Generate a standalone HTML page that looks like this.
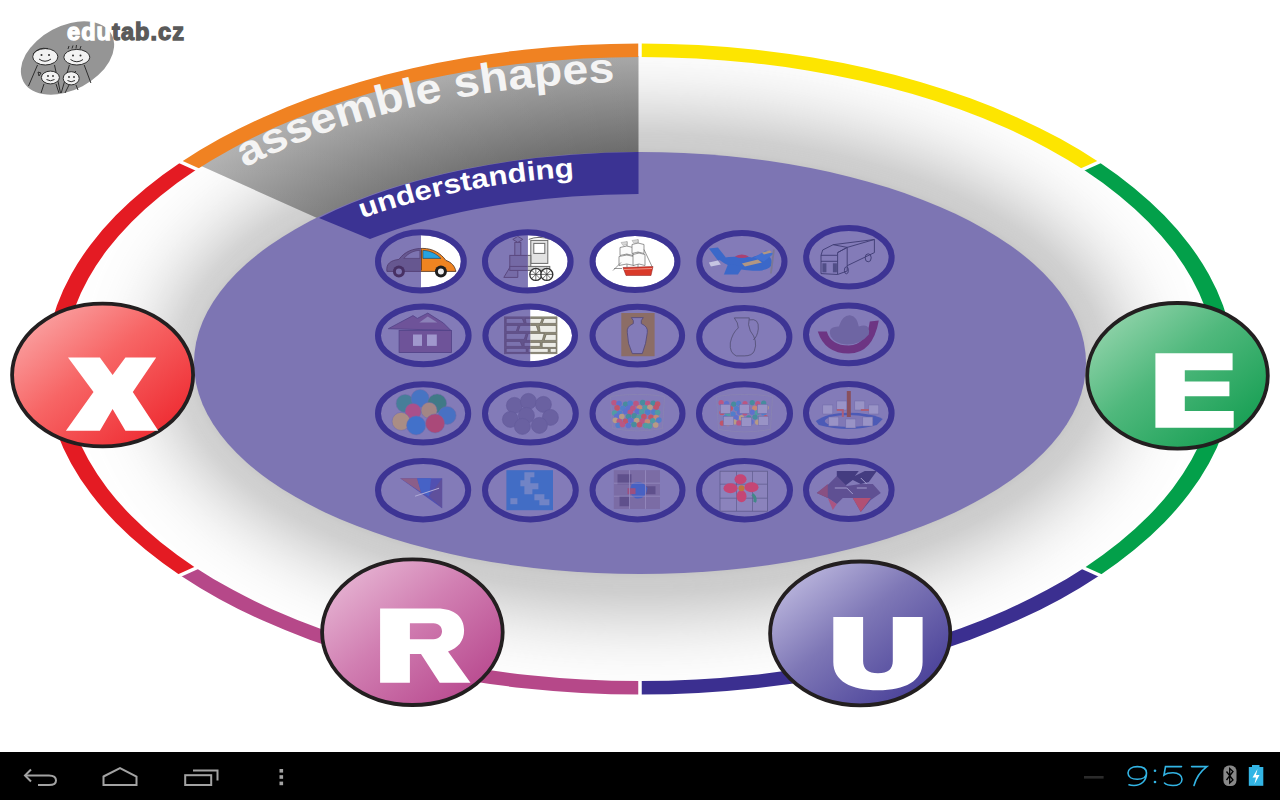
<!DOCTYPE html>
<html><head><meta charset="utf-8">
<style>
html,body{margin:0;padding:0;width:1280px;height:800px;overflow:hidden;background:#fff;font-family:"Liberation Sans",sans-serif;}
svg{display:block;position:absolute;left:0;top:0;}
</style></head>
<body>
<svg width="1280" height="800" viewBox="0 0 1280 800">
<defs>
  <clipPath id="ringIn"><ellipse cx="640" cy="369" rx="577.5" ry="313"/></clipPath>
  <filter id="blur5" x="-20%" y="-20%" width="140%" height="140%"><feGaussianBlur stdDeviation="5"/></filter>
  <filter id="blur30" x="-50%" y="-50%" width="200%" height="200%"><feGaussianBlur stdDeviation="42"/></filter>
  <radialGradient id="wedgeG" gradientUnits="userSpaceOnUse" cx="640" cy="369" r="320" gradientTransform="translate(640 369) scale(1.84 1) translate(-640 -369)">
    <stop offset="0.66" stop-color="#686868"/>
    <stop offset="0.81" stop-color="#868686"/>
    <stop offset="0.966" stop-color="#a6a6a6"/>
    <stop offset="1" stop-color="#aaaaaa"/>
  </radialGradient>
  <linearGradient id="wedgeL" gradientUnits="userSpaceOnUse" x1="200" y1="0" x2="640" y2="0">
    <stop offset="0" stop-color="#fff" stop-opacity="0.12"/>
    <stop offset="1" stop-color="#fff" stop-opacity="0"/>
  </linearGradient>
  <linearGradient id="gX" x1="0" y1="0" x2="1" y2="1">
    <stop offset="0" stop-color="#fbb5b5"/><stop offset="0.45" stop-color="#f76565"/><stop offset="1" stop-color="#ec1c24"/>
  </linearGradient>
  <linearGradient id="gE" x1="0" y1="0" x2="1" y2="1">
    <stop offset="0" stop-color="#a6dcb9"/><stop offset="0.45" stop-color="#4fb87c"/><stop offset="1" stop-color="#079848"/>
  </linearGradient>
  <linearGradient id="gR" x1="0" y1="0" x2="1" y2="1">
    <stop offset="0" stop-color="#ecc3dc"/><stop offset="0.45" stop-color="#d17fb2"/><stop offset="1" stop-color="#b23c86"/>
  </linearGradient>
  <linearGradient id="gU" x1="0" y1="0" x2="1" y2="1">
    <stop offset="0" stop-color="#cfcbea"/><stop offset="0.45" stop-color="#7e77b6"/><stop offset="1" stop-color="#3a3190"/>
  </linearGradient>
  <mask id="gapMask" maskUnits="userSpaceOnUse" x="0" y="0" width="1280" height="800">
    <rect x="0" y="0" width="1280" height="800" fill="#fff"/>
    <g stroke="#000" stroke-width="3.5">
      <line x1="640" y1="0" x2="640" y2="800"/>
      <line x1="-264" y1="-38" x2="1544" y2="775"/>
      <line x1="-264" y1="775" x2="1544" y2="-38"/>
    </g>
  </mask>
  <clipPath id="cOr"><polygon points="640,368.5 640,-10 -10,-10 -10,76"/></clipPath>
  <clipPath id="cYe"><polygon points="640,368.5 640,-10 1290,-10 1290,76"/></clipPath>
  <clipPath id="cGr"><polygon points="640,368.5 1290,76 1290,661"/></clipPath>
  <clipPath id="cIn"><polygon points="640,368.5 1290,661 1290,810 640,810"/></clipPath>
  <clipPath id="cMa"><polygon points="640,368.5 640,810 -10,810 -10,661"/></clipPath>
  <clipPath id="cRe"><polygon points="640,368.5 -10,661 -10,76"/></clipPath>
  <path id="arcA" d="M 200 194.51 A 554.15 287.03 0 0 1 1080 194.51"/>
  <path id="arcU" d="M 300 246.06 A 439 194.35 0 0 1 980 246.06"/>
</defs>

<rect x="0" y="0" width="1280" height="800" fill="#fff"/>

<!-- plate shading -->
<g clip-path="url(#ringIn)">
  <ellipse cx="643" cy="364" rx="480" ry="245" fill="#b4b4b4" filter="url(#blur30)"/>
  <ellipse cx="640" cy="363" rx="452" ry="217" fill="none" stroke="#fff" stroke-opacity="0.12" stroke-width="10" filter="url(#blur5)"/>
</g>

<!-- gray wedge -->
<polygon points="638.5,362 638.5,0 0,0 0,75.8" fill="url(#wedgeG)" clip-path="url(#ringIn)"/>
<polygon points="638.5,362 638.5,0 0,0 0,75.8" fill="url(#wedgeL)" clip-path="url(#ringIn)"/>

<!-- purple plate -->
<ellipse cx="640" cy="363" rx="446" ry="211" fill="#7d75b3"/>

<!-- understanding band -->
<path d="M 319 218 A 446 211 0 0 1 638.5 152 L 638.5 194 A 397 169 0 0 0 370 239 Z" fill="#3b3393"/>

<!-- ring -->
<g mask="url(#gapMask)" fill-rule="evenodd">
  <path d="M 45.5 369 A 594.5 325.5 0 1 0 1234.5 369 A 594.5 325.5 0 1 0 45.5 369 Z M 63.5 369 A 576.5 312 0 1 0 1216.5 369 A 576.5 312 0 1 0 63.5 369 Z" fill="#f08222" clip-path="url(#cOr)"/>
  <path d="M 45.5 369 A 594.5 325.5 0 1 0 1234.5 369 A 594.5 325.5 0 1 0 45.5 369 Z M 63.5 369 A 576.5 312 0 1 0 1216.5 369 A 576.5 312 0 1 0 63.5 369 Z" fill="#fde500" clip-path="url(#cYe)"/>
  <path d="M 45.5 369 A 594.5 325.5 0 1 0 1234.5 369 A 594.5 325.5 0 1 0 45.5 369 Z M 63.5 369 A 576.5 312 0 1 0 1216.5 369 A 576.5 312 0 1 0 63.5 369 Z" fill="#03a04a" clip-path="url(#cGr)"/>
  <path d="M 45.5 369 A 594.5 325.5 0 1 0 1234.5 369 A 594.5 325.5 0 1 0 45.5 369 Z M 63.5 369 A 576.5 312 0 1 0 1216.5 369 A 576.5 312 0 1 0 63.5 369 Z" fill="#3b2f90" clip-path="url(#cIn)"/>
  <path d="M 45.5 369 A 594.5 325.5 0 1 0 1234.5 369 A 594.5 325.5 0 1 0 45.5 369 Z M 63.5 369 A 576.5 312 0 1 0 1216.5 369 A 576.5 312 0 1 0 63.5 369 Z" fill="#b64889" clip-path="url(#cMa)"/>
  <path d="M 45.5 369 A 594.5 325.5 0 1 0 1234.5 369 A 594.5 325.5 0 1 0 45.5 369 Z M 63.5 369 A 576.5 312 0 1 0 1216.5 369 A 576.5 312 0 1 0 63.5 369 Z" fill="#e41b23" clip-path="url(#cRe)"/>
</g>

<!-- texts -->
<text font-family="Liberation Sans" font-weight="bold" font-size="42" fill="#f4f4f4"><textPath href="#arcA" startOffset="52" textLength="383" lengthAdjust="spacingAndGlyphs">assemble shapes</textPath></text>
<text font-family="Liberation Sans" font-weight="bold" font-size="27" fill="#fff"><textPath href="#arcU" startOffset="68" textLength="217" lengthAdjust="spacingAndGlyphs">understanding</textPath></text>

<!-- GRID -->
<defs>
<clipPath id="ce0"><ellipse cx="0" cy="0" rx="39.90" ry="26.20"/></clipPath>
<g id="ic0">
<path d="M-34,10 C-35,2 -30,-1 -22,-2 C-16,-10 -8,-13 2,-13 C12,-13 20,-8 25,-1 C31,1 34,5 35,10 Z" fill="#ef8421" stroke="#4a2d1a" stroke-width="0.8"/>
<path d="M-17,-3 C-12,-9 -6,-11 -1,-11 L-1,-3 Z" fill="#f4f4f4" stroke="#4a2d1a" stroke-width="0.6"/>
<path d="M2,-11 C10,-11 16,-7 20,-3 L2,-3 Z" fill="#27a3e0" stroke="#1a3a5a" stroke-width="0.6"/>
<line x1="0.5" y1="-12" x2="0.5" y2="9" stroke="#4a2d1a" stroke-width="0.8"/>
<circle cx="-22" cy="10" r="6" fill="#1e1e1e"/><circle cx="-22" cy="10" r="3" fill="#eee"/>
<circle cx="20" cy="10" r="6" fill="#1e1e1e"/><circle cx="20" cy="10" r="3" fill="#eee"/>
</g>
<clipPath id="ce1"><ellipse cx="0" cy="0" rx="39.80" ry="26.20"/></clipPath>
<g id="ic1">
<g stroke="#6a6a6a" stroke-width="1" fill="#e2e2e2">
<rect x="3" y="-21" width="17" height="23"/>
<rect x="6" y="-18" width="11" height="10" fill="#fff"/>
<path d="M1,-22 Q11,-26 22,-22" fill="none"/>
<rect x="-18" y="-6" width="21" height="12" fill="#d2d2d2"/>
<rect x="-13" y="-19" width="6" height="13"/>
<path d="M-15,-22 L-10,-25 L-5,-22 L-10,-19 Z"/>
<path d="M-24,16 L-18,6 L-10,6 L-10,16 Z" fill="#d8d8d8"/>
<rect x="-18" y="5" width="40" height="4" fill="#cfcfcf"/>
</g>
<g stroke="#333" stroke-width="1.4" fill="#fff">
<circle cx="8" cy="13" r="6"/><circle cx="19" cy="13" r="6"/>
<path d="M2,13 H14 M8,7 V19 M4,9 L12,17 M12,9 L4,17 M13,13 H25 M19,7 V19 M15,9 L23,17 M23,9 L15,17" stroke-width="0.7"/>
</g>
</g>
<clipPath id="ce2"><ellipse cx="0" cy="0" rx="39.50" ry="25.60"/></clipPath>
<g id="ic2">
<path d="M-12,6 L18,5 L16,14 L-9,14 Z" fill="#d93a2a" stroke="#8a1a1a" stroke-width="0.5"/>
<path d="M-11,8 L17,7" stroke="#f5c0b0" stroke-width="0.7"/>
<g stroke="#6a6a6a" stroke-width="0.7" fill="#fbfbfb">
<path d="M-8,-20 V6 M3,-22 V6" fill="none"/>
<path d="M-15,-14 Q-8,-17 -2,-14 L-2,-6 Q-8,-9 -15,-6 Z"/>
<path d="M-16,-5 Q-8,-8 -1,-5 L-1,4 Q-8,1 -16,4 Z"/>
<path d="M-3,-17 Q3,-20 9,-17 L9,-8 Q3,-11 -3,-8 Z"/>
<path d="M-2,-7 Q4,-10 10,-7 L10,4 Q4,1 -2,4 Z"/>
<path d="M-22,9 L-14,1 M9,-12 L17,5 M-21,7 H-13" fill="none"/>
</g>
<path d="M-8,-20 L-14,-19 L-12,-16 L-8,-17 Z M3,-22 L-3,-21 L-1,-18 L3,-19 Z" fill="#d8d8d8" stroke="#888" stroke-width="0.4"/>
</g>
<clipPath id="ce3"><ellipse cx="0" cy="0" rx="39.60" ry="25.60"/></clipPath>
<g id="ic3">
<path d="M-33,-13 L-24,-14 L-16,-4 L-24,-1 Z" fill="#3166cb"/>
<path d="M-33,1 L-24,-1 L-21,3 L-31,5 Z" fill="#d0d0e8"/>
<path d="M-24,-3 C-12,-5 0,-6 10,-4 C20,-9 30,-7 30,1 C30,8 20,10 8,9 C-6,8 -16,4 -24,-3 Z" fill="#3166cb"/>
<path d="M-14,3 L2,4 L-4,13 L-18,13 Z" fill="#3166cb"/>
<path d="M12,-4 L24,-11 L32,-8 L22,0 Z" fill="#3a6fd4"/>
<path d="M-7,-5 Q0,-9 7,-5 Q0,-2 -7,-5 Z" fill="#b03a68"/>
<path d="M0,2 L16,-2 L20,1 L3,5 Z" fill="#b89a7c"/>
<path d="M20,-9 L28,-11 L30,-9 L22,-7 Z" fill="#b89a7c"/>
<path d="M32,-12 L29,12" stroke="#7a7890" stroke-width="1.8"/>
</g>
<clipPath id="ce4"><ellipse cx="0" cy="0" rx="39.75" ry="26.20"/></clipPath>
<g id="ic4">
<g stroke="#35336a" stroke-width="0.9" fill="none" stroke-linejoin="round">
<path d="M-27.9,-2 L-11.3,-2 L-11.3,17.2 L-27.9,16.3 Z"/>
<path d="M-11.3,-2 L-11.3,-4.7 L-1.7,-9.9 L-1.7,13.7 L-11.3,17.2"/>
<path d="M-27.9,-2 L-26.2,-7.3 L-15.7,-12.6 L-1.7,-9.9 L-11.3,-4.7"/>
<path d="M-15.7,-12.6 L25.5,-17.8 L25.5,-4.7 L-1.7,8.4 M-1.7,-9.9 L25.5,-17.8"/>
<path d="M-27.9,4 H-11.3"/>
<ellipse cx="19.3" cy="0.5" rx="3" ry="4"/>
<ellipse cx="-2.5" cy="13" rx="2" ry="3.5"/>
</g>
<rect x="-26.5" y="6" width="4" height="9" fill="#4a4880"/><rect x="-16" y="6" width="4" height="9" fill="#4a4880"/>
</g>
<clipPath id="ce5"><ellipse cx="0" cy="0" rx="42.30" ry="25.90"/></clipPath>
<g id="ic5">
<g fill="#6c4e95" stroke="#4a3a80" stroke-width="0.8">
<path d="M-35,-6.7 L-10.3,-19.8 L-6,-17 L4.5,-22.3 L20.1,-12.4 L27.5,-5 Z"/>
<rect x="-24.2" y="-5" width="52.5" height="22.1"/>
</g>
<path d="M-4,-13 L4.5,-19 L14,-13 Z" fill="#8d82b8"/>
<rect x="-10.3" y="-0.9" width="9" height="11.4" fill="#a49cd0"/>
<rect x="3.7" y="-0.9" width="9.8" height="11.4" fill="#a49cd0"/>
</g>
<clipPath id="ce6"><ellipse cx="0" cy="0" rx="41.80" ry="25.90"/></clipPath>
<g id="ic6">
<rect x="-26.2" y="-19" width="53.4" height="37.7" fill="#8f8c7a"/>
<g fill="#ecece6" stroke="#5a5646" stroke-width="0.6">
<path d="M-24,-17 H-8 L-6,-12 H-24 Z"/><path d="M-5,-17 H12 L10,-12 H-4 Z"/><path d="M14,-17 H26 V-12 H12 Z"/>
<path d="M-24,-10 H-12 L-14,-4 H-24 Z"/><path d="M-10,-10 H6 L8,-4 H-12 Z"/><path d="M9,-10 H26 V-3 H10 Z"/>
<path d="M-24,-2 H-4 L-6,4 H-24 Z"/><path d="M-2,-2 H14 L12,5 H-4 Z"/><path d="M16,-1 H26 V5 H14 Z"/>
<path d="M-24,6 H-10 L-8,11 H-24 Z"/><path d="M-6,7 H10 V11 H-6 Z"/><path d="M12,7 H26 V12 H12 Z"/>
<path d="M-24,13 H-4 V17 H-24 Z"/><path d="M-2,13 H18 V17 H-2 Z"/><path d="M20,13 H26 V17 H20 Z"/>
</g>
</g>
<clipPath id="ce7"><ellipse cx="0" cy="0" rx="41.80" ry="25.90"/></clipPath>
<g id="ic7">
<path d="M-16,-22.6 H17.3 V20.6 H-16 Z M-6,-18 L6,-18 Q3,-15 4,-12 Q11,-9 10,-3 Q9,8 5,18 L-5,18 Q-10,8 -10,-3 Q-11,-9 -4,-12 Q-3,-15 -6,-18 Z" fill="#8e6c5a" fill-rule="evenodd"/>
<path d="M-6,-18 L6,-18 Q3,-15 4,-12 Q11,-9 10,-3 Q9,8 5,18 L-5,18 Q-10,8 -10,-3 Q-11,-9 -4,-12 Q-3,-15 -6,-18 Z" fill="none" stroke="#4a4070" stroke-width="0.8"/>
</g>
<clipPath id="ce8"><ellipse cx="0" cy="0" rx="42.10" ry="25.90"/></clipPath>
<g id="ic8">
<path d="M-10,-19 L5,-19 Q3,-12 6,-6 Q14,4 10,14 Q8,19 0,19 L-8,19 Q-15,16 -14,6 Q-12,-4 -6,-9 Q-6,-14 -10,-19 Z M5,-17 Q15,-19 14,-8 Q13,0 9,3" fill="none" stroke="#4a4868" stroke-width="0.8"/>
</g>
<clipPath id="ce9"><ellipse cx="0" cy="0" rx="39.80" ry="25.90"/></clipPath>
<g id="ic9">
<path d="M-31,-3 Q-24,19 0,19 Q24,19 30,-14 L21,-13 Q18,10 0,11 Q-18,11 -22,-3 Z" fill="#6a2c7c"/>
<path d="M-18,2 Q-22,-8 -10,-8 Q-6,-20 2,-19 Q8,-18 10,-8 Q22,-12 20,0 Q12,10 -2,10 Q-14,9 -18,2 Z" fill="#6c62a0"/>
</g>
<clipPath id="ce10"><ellipse cx="0" cy="0" rx="42.10" ry="26.10"/></clipPath>
<g id="ic10">
<g stroke="#6d68a8" stroke-width="0.5">
<circle cx="-18" cy="-10" r="9" fill="#3f7f95"/>
<circle cx="-3" cy="-15" r="9" fill="#3f74c4"/>
<circle cx="14" cy="-10" r="9.5" fill="#377a80"/>
<circle cx="-10" cy="-2" r="8" fill="#b04a84"/>
<circle cx="6" cy="-3" r="8" fill="#a8887e"/>
<circle cx="24" cy="2" r="9" fill="#4070c4"/>
<circle cx="-22" cy="8" r="9" fill="#b0907e"/>
<circle cx="-7" cy="12" r="9.5" fill="#3a70cc"/>
<circle cx="12" cy="10" r="9.5" fill="#b04270"/>
</g>
</g>
<clipPath id="ce11"><ellipse cx="0" cy="0" rx="42.40" ry="26.10"/></clipPath>
<g id="ic11">
<g fill="#675e9e" stroke="#5e5696" stroke-width="0.6">
<circle cx="-16" cy="-8" r="8"/><circle cx="-2" cy="-12" r="8"/><circle cx="13" cy="-9" r="8"/>
<circle cx="-20" cy="6" r="8"/><circle cx="-4" cy="2" r="8"/><circle cx="20" cy="4" r="8"/>
<circle cx="-8" cy="13" r="8"/><circle cx="9" cy="12" r="8"/>
</g>
</g>
<clipPath id="ce12"><ellipse cx="0" cy="0" rx="42.00" ry="26.10"/></clipPath>
<g id="ic12">
<path d="M-27,-17 Q0,-21 27,-17 L25,15 Q0,20 -25,15 Z" fill="none" stroke="#8a85b0" stroke-width="0.8"/>
<circle cx="-23.4" cy="-10.7" r="2.8" fill="#c2527c"/>
<circle cx="-18.4" cy="-9.9" r="2.8" fill="#5a6fd0"/>
<circle cx="-11.8" cy="-9.2" r="2.8" fill="#3f8f9a"/>
<circle cx="-7.4" cy="-10.1" r="2.8" fill="#4a7fcc"/>
<circle cx="-1.5" cy="-9.9" r="2.8" fill="#c2527c"/>
<circle cx="5.2" cy="-10.8" r="2.8" fill="#3f8f9a"/>
<circle cx="10.3" cy="-9.8" r="2.8" fill="#c2527c"/>
<circle cx="15.7" cy="-10.2" r="2.8" fill="#3f8f9a"/>
<circle cx="20.1" cy="-9.3" r="2.8" fill="#c85060"/>
<circle cx="-20.4" cy="-5.5" r="2.8" fill="#c85060"/>
<circle cx="-14.6" cy="-5.2" r="2.8" fill="#4a7fcc"/>
<circle cx="-9.1" cy="-5.3" r="2.8" fill="#5a6fd0"/>
<circle cx="-4.6" cy="-5.2" r="2.8" fill="#c2527c"/>
<circle cx="2.0" cy="-5.6" r="2.8" fill="#d08a6a"/>
<circle cx="7.8" cy="-5.7" r="2.8" fill="#4aa0a0"/>
<circle cx="12.5" cy="-6.1" r="2.8" fill="#bfa07e"/>
<circle cx="18.6" cy="-6.1" r="2.8" fill="#c85060"/>
<circle cx="-22.9" cy="-0.4" r="2.8" fill="#4aa0a0"/>
<circle cx="-17.9" cy="-0.2" r="2.8" fill="#4a7fcc"/>
<circle cx="-12.0" cy="-1.9" r="2.8" fill="#5a6fd0"/>
<circle cx="-7.2" cy="-1.2" r="2.8" fill="#c2527c"/>
<circle cx="-0.1" cy="-2.0" r="2.8" fill="#5a6fd0"/>
<circle cx="4.2" cy="-1.5" r="2.8" fill="#4aa0a0"/>
<circle cx="10.2" cy="-1.3" r="2.8" fill="#4a7fcc"/>
<circle cx="16.4" cy="-1.3" r="2.8" fill="#4a7fcc"/>
<circle cx="20.1" cy="-0.8" r="2.8" fill="#4aa0a0"/>
<circle cx="-20.7" cy="3.0" r="2.8" fill="#5a6fd0"/>
<circle cx="-15.7" cy="3.1" r="2.8" fill="#bfa07e"/>
<circle cx="-9.0" cy="3.2" r="2.8" fill="#3f8f9a"/>
<circle cx="-3.2" cy="2.5" r="2.8" fill="#3f8f9a"/>
<circle cx="1.5" cy="4.0" r="2.8" fill="#4aa0a0"/>
<circle cx="6.4" cy="3.1" r="2.8" fill="#c85060"/>
<circle cx="13.5" cy="3.8" r="2.8" fill="#c85060"/>
<circle cx="18.7" cy="4.2" r="2.8" fill="#d08a6a"/>
<circle cx="-22.1" cy="6.9" r="2.8" fill="#bfa07e"/>
<circle cx="-18.2" cy="7.9" r="2.8" fill="#c2527c"/>
<circle cx="-12.0" cy="7.8" r="2.8" fill="#c85060"/>
<circle cx="-6.9" cy="6.9" r="2.8" fill="#5a6fd0"/>
<circle cx="-0.8" cy="7.2" r="2.8" fill="#bfa07e"/>
<circle cx="4.9" cy="7.6" r="2.8" fill="#c2527c"/>
<circle cx="9.9" cy="8.3" r="2.8" fill="#d08a6a"/>
<circle cx="15.3" cy="7.4" r="2.8" fill="#4aa0a0"/>
<circle cx="21.3" cy="6.7" r="2.8" fill="#4a7fcc"/>
<circle cx="-19.3" cy="11.9" r="2.8" fill="#4a7fcc"/>
<circle cx="-15.1" cy="11.1" r="2.8" fill="#c2527c"/>
<circle cx="-9.1" cy="12.1" r="2.8" fill="#5a6fd0"/>
<circle cx="-3.5" cy="11.1" r="2.8" fill="#3f8f9a"/>
<circle cx="2.0" cy="11.3" r="2.8" fill="#c85060"/>
<circle cx="8.2" cy="12.2" r="2.8" fill="#4aa0a0"/>
<circle cx="12.0" cy="12.7" r="2.8" fill="#4aa0a0"/>
<circle cx="18.2" cy="11.6" r="2.8" fill="#bfa07e"/></g>
<clipPath id="ce13"><ellipse cx="0" cy="0" rx="42.50" ry="26.10"/></clipPath>
<g id="ic13">
<path d="M-28,-17 Q0,-21 28,-17 L26,16 Q0,21 -26,16 Z" fill="none" stroke="#8a85b0" stroke-width="0.8"/>
<circle cx="-23.4" cy="-10.7" r="2.6" fill="#c2527c"/>
<circle cx="-17.9" cy="-9.9" r="2.6" fill="#5a6fd0"/>
<circle cx="-10.8" cy="-9.2" r="2.6" fill="#3f8f9a"/>
<circle cx="-5.9" cy="-10.1" r="2.6" fill="#4a7fcc"/>
<circle cx="0.5" cy="-9.9" r="2.6" fill="#c2527c"/>
<circle cx="7.7" cy="-10.8" r="2.6" fill="#3f8f9a"/>
<circle cx="13.3" cy="-9.8" r="2.6" fill="#c2527c"/>
<circle cx="19.2" cy="-10.2" r="2.6" fill="#3f8f9a"/>
<circle cx="-20.9" cy="-4.5" r="2.6" fill="#c85060"/>
<circle cx="-14.2" cy="-5.1" r="2.6" fill="#c85060"/>
<circle cx="-7.9" cy="-4.8" r="2.6" fill="#4a7fcc"/>
<circle cx="-1.8" cy="-4.9" r="2.6" fill="#5a6fd0"/>
<circle cx="3.2" cy="-4.8" r="2.6" fill="#c2527c"/>
<circle cx="10.2" cy="-5.2" r="2.6" fill="#d08a6a"/>
<circle cx="16.6" cy="-5.3" r="2.6" fill="#4aa0a0"/>
<circle cx="21.7" cy="-5.7" r="2.6" fill="#bfa07e"/>
<circle cx="-22.6" cy="-0.9" r="2.6" fill="#c85060"/>
<circle cx="-16.9" cy="0.4" r="2.6" fill="#4aa0a0"/>
<circle cx="-11.4" cy="0.6" r="2.6" fill="#4a7fcc"/>
<circle cx="-5.0" cy="-1.1" r="2.6" fill="#5a6fd0"/>
<circle cx="0.3" cy="-0.4" r="2.6" fill="#c2527c"/>
<circle cx="7.9" cy="-1.2" r="2.6" fill="#5a6fd0"/>
<circle cx="12.7" cy="-0.7" r="2.6" fill="#4aa0a0"/>
<circle cx="19.2" cy="-0.5" r="2.6" fill="#4a7fcc"/>
<circle cx="-19.1" cy="4.3" r="2.6" fill="#4a7fcc"/>
<circle cx="-14.9" cy="4.8" r="2.6" fill="#4aa0a0"/>
<circle cx="-8.4" cy="4.2" r="2.6" fill="#5a6fd0"/>
<circle cx="-3.0" cy="4.3" r="2.6" fill="#bfa07e"/>
<circle cx="4.2" cy="4.4" r="2.6" fill="#3f8f9a"/>
<circle cx="10.5" cy="3.7" r="2.6" fill="#3f8f9a"/>
<circle cx="15.8" cy="5.2" r="2.6" fill="#4aa0a0"/>
<circle cx="21.2" cy="4.3" r="2.6" fill="#c85060"/>
<circle cx="-22.2" cy="9.8" r="2.6" fill="#c85060"/>
<circle cx="-16.6" cy="10.2" r="2.6" fill="#d08a6a"/>
<circle cx="-10.1" cy="8.5" r="2.6" fill="#bfa07e"/>
<circle cx="-5.7" cy="9.5" r="2.6" fill="#c2527c"/>
<circle cx="1.0" cy="9.4" r="2.6" fill="#c85060"/>
<circle cx="6.6" cy="8.5" r="2.6" fill="#5a6fd0"/>
<circle cx="13.2" cy="8.8" r="2.6" fill="#bfa07e"/>
<circle cx="19.4" cy="9.2" r="2.6" fill="#c2527c"/>
<g fill="#9d97c8" stroke="#6e68a8" stroke-width="0.5">
<rect x="-24" y="-9" width="10" height="9"/><rect x="-5" y="-9" width="10" height="9"/><rect x="13" y="-9" width="10" height="9"/>
<rect x="-21" y="3" width="10" height="9"/><rect x="-3" y="4" width="10" height="9"/><rect x="14" y="3" width="10" height="9"/>
</g>
</g>
<clipPath id="ce14"><ellipse cx="0" cy="0" rx="39.80" ry="26.00"/></clipPath>
<g id="ic14">
<path d="M-33,8 Q-20,-2 10,0 Q28,2 34,6 L28,12 Q0,20 -30,12 Z" fill="#3b50b5" opacity="0.85"/>
<ellipse cx="0" cy="8" rx="24" ry="6" fill="#8078b6"/>
<rect x="-2" y="-22" width="4" height="26" fill="#8a4a50"/>
<g fill="#9d97c8" stroke="#6e68a8" stroke-width="0.5">
<rect x="-26" y="-8" width="10" height="9"/><rect x="-12" y="-12" width="10" height="9"/><rect x="6" y="-12" width="10" height="9"/><rect x="20" y="-8" width="10" height="9"/>
<rect x="-20" y="4" width="10" height="9"/><rect x="-3" y="6" width="10" height="9"/><rect x="14" y="4" width="10" height="9"/>
</g>
<path d="M-12,-3 H-6 V4 M12,-3 H20" stroke="#b05a70" stroke-width="2" fill="none"/>
</g>
<clipPath id="ce15"><ellipse cx="0" cy="0" rx="42.10" ry="26.20"/></clipPath>
<g id="ic15">
<path d="M-23,-12 L19,-12 L19,18 Z" fill="#4a4ab0"/>
<path d="M-23,-12 L-6,-12 L-2,2 Z" fill="#8c5a82"/>
<path d="M-6,-12 L8,-12 L6,6 L-2,2 Z" fill="#3e5fc8"/>
<path d="M19,-12 L19,18 L6,6 Z" fill="#5a4a98"/>
<path d="M-8,6 L16,-2" stroke="#b8b4dc" stroke-width="1"/>
</g>
<clipPath id="ce16"><ellipse cx="0" cy="0" rx="42.40" ry="26.20"/></clipPath>
<g id="ic16">
<rect x="-24" y="-20" width="46.6" height="40" fill="#3a6bc6"/>
<g fill="#6f86c8">
<path d="M-6,-18 h10 v5 h-4 v6 h8 v6 h-6 v5 h-8 v-8 h-4 v-6 h4 Z"/>
<path d="M4,4 h10 v5 h5 v6 h-10 v-5 h-5 Z"/>
<path d="M-20,8 h7 v6 h-7 Z"/>
</g>
</g>
<clipPath id="ce17"><ellipse cx="0" cy="0" rx="42.00" ry="26.20"/></clipPath>
<g id="ic17">
<rect x="-23.7" y="-20" width="46.2" height="38.7" fill="#7a6aa2"/>
<path d="M-20,-16 h14 v10 h-14 Z M6,-4 h12 v8 h-12 Z M-18,6 h10 v10 h-10 Z" fill="#5b4a86"/>
<path d="M-6,-6 Q4,-12 10,-2 Q8,10 -2,8 Q-10,4 -6,-6 Z" fill="#3f5ec4"/>
<path d="M-10,-2 h8 v6 h-8 Z" fill="#a04a78"/>
<path d="M-23.7,-7 H22.5 M-23.7,6 H22.5 M-8,-20 V18.7 M8,-20 V18.7" stroke="#9d93c4" stroke-width="0.7"/>
</g>
<clipPath id="ce18"><ellipse cx="0" cy="0" rx="42.50" ry="26.20"/></clipPath>
<g id="ic18">
<rect x="-24.5" y="-19" width="47.5" height="40" fill="#8c84bc" stroke="#5a5888" stroke-width="0.8"/>
<path d="M-24.5,-6 H23 M-24.5,8 H23 M-8,-19 V21 M8,-19 V21" stroke="#5a5888" stroke-width="0.7"/>
<g fill="#cf3f6c">
<ellipse cx="-4" cy="-11" rx="6" ry="5"/><ellipse cx="-14" cy="-2" rx="7" ry="5"/><ellipse cx="7" cy="-3" rx="7" ry="5"/><ellipse cx="-3" cy="6" rx="5" ry="6"/>
</g>
<circle cx="-3" cy="-2" r="3" fill="#c8762c"/>
<path d="M8,4 Q12,8 10,12" stroke="#3a8a80" stroke-width="3" fill="none"/>
</g>
<clipPath id="ce19"><ellipse cx="0" cy="0" rx="39.80" ry="26.10"/></clipPath>
<g id="ic19">
<path d="M-12,-19 L10,-19 L6,-14 L16,-19 L28,-19 L20,-8 L12,-6 L4,-10 L-4,-4 L-12,-8 Z" fill="#3c3478"/>
<path d="M-20,-6 L-12,-14 L-2,-4 L12,-6 L24,-6 L32,3 L22,10 L12,22 L4,8 L-6,8 L-12,14 L-21,8 L-32,3 Z" fill="#5a4a8e"/>
<path d="M-32,3 L-21,-6 L-21,8 Z" fill="#8a4a7a"/>
<path d="M-21,8 L-12,14 L-16,20 Z" fill="#b0507a"/>
<path d="M4,8 L22,8 L12,22 Z" fill="#b84a6a"/>
<path d="M-14,-2 L-2,-2 L4,4 M8,-2 L18,-2 M12,-12 L18,-6" stroke="#a8a2d0" stroke-width="1" fill="none"/>
</g>
<filter id="tint" x="0" y="0" width="1" height="1" color-interpolation-filters="sRGB"><feColorMatrix type="matrix" values="0.0748 0.1468 0.0285 0 0.25  0.0957 0.1878 0.0365 0 0.15  0.1076 0.2113 0.0410 0 0.35  0 0 0 1 0"/></filter>
<clipPath id="hr"><rect x="0" y="-40" width="60" height="80"/></clipPath>
<clipPath id="hl"><rect x="-60" y="-40" width="60" height="80"/></clipPath>
</defs>
<g transform="translate(420.9 261.4)">
<g clip-path="url(#ce0)">
<rect x="-60" y="-40" width="120" height="80" fill="#837bb8"/>
<rect x="0" y="-40" width="60" height="80" fill="#fff"/>
<g clip-path="url(#hr)"><use href="#ic0"/></g>
<g clip-path="url(#hl)"><g filter="url(#tint)"><rect x="-60" y="-40" width="60" height="80" fill="#fff"/><use href="#ic0"/></g></g>
</g>
<ellipse cx="0" cy="0" rx="42.90" ry="29.20" fill="none" stroke="#3d3494" stroke-width="6.0"/>
</g>
<g transform="translate(527.8 261.4)">
<g clip-path="url(#ce1)">
<rect x="-60" y="-40" width="120" height="80" fill="#837bb8"/>
<rect x="0" y="-40" width="60" height="80" fill="#fff"/>
<g clip-path="url(#hr)"><use href="#ic1"/></g>
<g clip-path="url(#hl)"><g filter="url(#tint)"><rect x="-60" y="-40" width="60" height="80" fill="#fff"/><use href="#ic1"/></g></g>
</g>
<ellipse cx="0" cy="0" rx="42.80" ry="29.20" fill="none" stroke="#3d3494" stroke-width="6.0"/>
</g>
<g transform="translate(635.0 261.5)">
<g clip-path="url(#ce2)">
<rect x="-60" y="-40" width="120" height="80" fill="#fff"/>
<use href="#ic2"/>
</g>
<ellipse cx="0" cy="0" rx="42.50" ry="28.60" fill="none" stroke="#3d3494" stroke-width="6.0"/>
</g>
<g transform="translate(741.9 261.5)">
<g clip-path="url(#ce3)">
<rect x="-60" y="-40" width="120" height="80" fill="#837bb8"/>
<g opacity="0.88"><use href="#ic3"/></g>
</g>
<ellipse cx="0" cy="0" rx="42.60" ry="28.60" fill="none" stroke="#3d3494" stroke-width="6.0"/>
</g>
<g transform="translate(848.9 257.3)">
<g clip-path="url(#ce4)">
<rect x="-60" y="-40" width="120" height="80" fill="#837bb8"/>
<g opacity="0.88"><use href="#ic4"/></g>
</g>
<ellipse cx="0" cy="0" rx="42.75" ry="29.20" fill="none" stroke="#3d3494" stroke-width="6.0"/>
</g>
<g transform="translate(423.3 335.4)">
<g clip-path="url(#ce5)">
<rect x="-60" y="-40" width="120" height="80" fill="#837bb8"/>
<g opacity="0.88"><use href="#ic5"/></g>
</g>
<ellipse cx="0" cy="0" rx="45.30" ry="28.90" fill="none" stroke="#3d3494" stroke-width="6.0"/>
</g>
<g transform="translate(530.2 335.4)">
<g clip-path="url(#ce6)">
<rect x="-60" y="-40" width="120" height="80" fill="#837bb8"/>
<rect x="0" y="-40" width="60" height="80" fill="#fff"/>
<g clip-path="url(#hr)"><use href="#ic6"/></g>
<g clip-path="url(#hl)"><g filter="url(#tint)"><rect x="-60" y="-40" width="60" height="80" fill="#fff"/><use href="#ic6"/></g></g>
</g>
<ellipse cx="0" cy="0" rx="44.80" ry="28.90" fill="none" stroke="#3d3494" stroke-width="6.0"/>
</g>
<g transform="translate(637.3 335.6)">
<g clip-path="url(#ce7)">
<rect x="-60" y="-40" width="120" height="80" fill="#837bb8"/>
<g opacity="0.88"><use href="#ic7"/></g>
</g>
<ellipse cx="0" cy="0" rx="44.80" ry="28.90" fill="none" stroke="#3d3494" stroke-width="6.0"/>
</g>
<g transform="translate(744.3 336.9)">
<g clip-path="url(#ce8)">
<rect x="-60" y="-40" width="120" height="80" fill="#837bb8"/>
<g opacity="0.88"><use href="#ic8"/></g>
</g>
<ellipse cx="0" cy="0" rx="45.10" ry="28.90" fill="none" stroke="#3d3494" stroke-width="6.0"/>
</g>
<g transform="translate(848.8 334.4)">
<g clip-path="url(#ce9)">
<rect x="-60" y="-40" width="120" height="80" fill="#837bb8"/>
<g opacity="0.88"><use href="#ic9"/></g>
</g>
<ellipse cx="0" cy="0" rx="42.80" ry="28.90" fill="none" stroke="#3d3494" stroke-width="6.0"/>
</g>
<g transform="translate(423.1 413.4)">
<g clip-path="url(#ce10)">
<rect x="-60" y="-40" width="120" height="80" fill="#837bb8"/>
<g opacity="0.88"><use href="#ic10"/></g>
</g>
<ellipse cx="0" cy="0" rx="45.10" ry="29.10" fill="none" stroke="#3d3494" stroke-width="6.0"/>
</g>
<g transform="translate(530.4 413.4)">
<g clip-path="url(#ce11)">
<rect x="-60" y="-40" width="120" height="80" fill="#837bb8"/>
<g opacity="0.88"><use href="#ic11"/></g>
</g>
<ellipse cx="0" cy="0" rx="45.40" ry="29.10" fill="none" stroke="#3d3494" stroke-width="6.0"/>
</g>
<g transform="translate(637.5 413.4)">
<g clip-path="url(#ce12)">
<rect x="-60" y="-40" width="120" height="80" fill="#837bb8"/>
<g opacity="0.88"><use href="#ic12"/></g>
</g>
<ellipse cx="0" cy="0" rx="45.00" ry="29.10" fill="none" stroke="#3d3494" stroke-width="6.0"/>
</g>
<g transform="translate(744.5 413.4)">
<g clip-path="url(#ce13)">
<rect x="-60" y="-40" width="120" height="80" fill="#837bb8"/>
<g opacity="0.88"><use href="#ic13"/></g>
</g>
<ellipse cx="0" cy="0" rx="45.50" ry="29.10" fill="none" stroke="#3d3494" stroke-width="6.0"/>
</g>
<g transform="translate(848.8 413.0)">
<g clip-path="url(#ce14)">
<rect x="-60" y="-40" width="120" height="80" fill="#837bb8"/>
<g opacity="0.88"><use href="#ic14"/></g>
</g>
<ellipse cx="0" cy="0" rx="42.80" ry="29.00" fill="none" stroke="#3d3494" stroke-width="6.0"/>
</g>
<g transform="translate(423.1 490.2)">
<g clip-path="url(#ce15)">
<rect x="-60" y="-40" width="120" height="80" fill="#837bb8"/>
<g opacity="0.88"><use href="#ic15"/></g>
</g>
<ellipse cx="0" cy="0" rx="45.10" ry="29.20" fill="none" stroke="#3d3494" stroke-width="6.0"/>
</g>
<g transform="translate(530.4 490.2)">
<g clip-path="url(#ce16)">
<rect x="-60" y="-40" width="120" height="80" fill="#837bb8"/>
<g opacity="0.88"><use href="#ic16"/></g>
</g>
<ellipse cx="0" cy="0" rx="45.40" ry="29.20" fill="none" stroke="#3d3494" stroke-width="6.0"/>
</g>
<g transform="translate(637.5 490.2)">
<g clip-path="url(#ce17)">
<rect x="-60" y="-40" width="120" height="80" fill="#837bb8"/>
<g opacity="0.88"><use href="#ic17"/></g>
</g>
<ellipse cx="0" cy="0" rx="45.00" ry="29.20" fill="none" stroke="#3d3494" stroke-width="6.0"/>
</g>
<g transform="translate(744.5 490.2)">
<g clip-path="url(#ce18)">
<rect x="-60" y="-40" width="120" height="80" fill="#837bb8"/>
<g opacity="0.88"><use href="#ic18"/></g>
</g>
<ellipse cx="0" cy="0" rx="45.50" ry="29.20" fill="none" stroke="#3d3494" stroke-width="6.0"/>
</g>
<g transform="translate(848.8 490.0)">
<g clip-path="url(#ce19)">
<rect x="-60" y="-40" width="120" height="80" fill="#837bb8"/>
<g opacity="0.88"><use href="#ic19"/></g>
</g>
<ellipse cx="0" cy="0" rx="42.80" ry="29.10" fill="none" stroke="#3d3494" stroke-width="6.0"/>
</g>

<!-- buttons -->
<g stroke="#231f20" stroke-width="3.8">
  <ellipse cx="102.6" cy="375" rx="90.5" ry="71.4" fill="url(#gX)"/>
  <ellipse cx="1177.5" cy="375.8" rx="90.3" ry="72.8" fill="url(#gE)"/>
  <ellipse cx="412.4" cy="632.2" rx="90.3" ry="72.8" fill="url(#gR)"/>
  <ellipse cx="860.2" cy="633.4" rx="90.1" ry="71.9" fill="url(#gU)"/>
</g>
<g fill="#fff">
  <path fill-rule="evenodd" d="M380.1,608.4 H437 C455,608.4 464.1,617 464.1,630.5 C464.1,641 458,648 448,651.5 L470.5,682.8 H439.7 L421,654.1 H409.9 V682.8 H380.1 Z M409.9,623.3 H433.5 C439,623.3 442,627 442,631.3 C442,635.6 439,639.3 433.5,639.3 H409.9 Z"/>
  <path d="M833.3,617 H863.1 V661 C863.1,669 868,673.3 878,673.3 C888,673.3 892.8,669 892.8,661 V617 H922.6 V662 C922.6,681 905,690.3 878,690.3 C851,690.3 833.3,681 833.3,662 Z"/>
  <polygon points="68,357.6 99.9,357.6 112.6,375 125.4,357.6 156.2,357.6 132.8,392 158.3,430.7 125.4,430.7 112.6,409 99.9,430.7 65.9,430.7 93.5,392"/>
  <path d="M1155.4 353.3 H1232.6 V370.3 H1184.8 V381.4 H1229.4 V396.3 H1184.8 V411.1 H1233.7 V427.7 H1155.4 Z"/>
</g>

<!-- logo -->
<g>
  <ellipse cx="67.5" cy="58" rx="50" ry="32" transform="rotate(-28 67.5 58)" fill="#959595"/>
  <g stroke="#2e2e2e" stroke-width="1" fill="none">
    <path d="M37.5,65 L28.5,86 M54.5,65 L60.5,93 M69.4,65 L61.2,93 M84.2,65 L90.9,83 M44,84 L41,93 M56,84 L59,93 M69,85 L65,93 M76,85 L78,90"/>
  </g>
  <g stroke="#2e2e2e" stroke-width="1" fill="#f2f2f2">
    <ellipse cx="45.3" cy="56.8" rx="12.6" ry="8.2"/>
    <ellipse cx="76.8" cy="57.2" rx="13" ry="7.8"/>
    <ellipse cx="50.4" cy="77.5" rx="9" ry="6.4"/>
    <ellipse cx="71.2" cy="78.3" rx="8" ry="6.6"/>
  </g>
  <g fill="#2e2e2e">
    <circle cx="41.5" cy="55" r="1"/><circle cx="49" cy="55" r="1"/>
    <circle cx="73" cy="55.5" r="1"/><circle cx="80.5" cy="55.5" r="1"/>
    <circle cx="48" cy="76" r="0.9"/><circle cx="53" cy="76" r="0.9"/>
    <circle cx="69" cy="77" r="0.9"/><circle cx="74" cy="77" r="0.9"/>
  </g>
  <g stroke="#2e2e2e" stroke-width="1" fill="none">
    <path d="M39,59 Q45,63.5 51,59 M70.5,59.5 Q77,64 83,59.5 M46.5,79.5 Q50.5,82 54.5,79.5 M67.5,80.5 Q71,83 75,80.5"/>
    <path d="M33,54 Q38,47 48,48.5 M68,49 L69,46 M72,48.5 L73,45.5 M76,48.5 L76.5,45 M80,49 L81,46 M41,73 L38,72 L39,76 Z M74,73 L76,71"/>
  </g>
  <text x="67" y="39.7" font-family="Liberation Sans" font-weight="bold" font-size="23.5" textLength="117" lengthAdjust="spacing"><tspan fill="#ffffff" stroke="#ffffff" stroke-width="1.3">edu</tspan><tspan fill="#5a5a5a" stroke="#5a5a5a" stroke-width="1.3">tab.cz</tspan></text>
</g>

<!-- navbar -->
<rect x="0" y="752" width="1280" height="48" fill="#000"/>
<g stroke="#a3a3a3" stroke-width="2" fill="none" stroke-linejoin="miter">
  <path d="M25,775.5 H49 C54,775.5 56,778 56,780.5 C56,783 54,785 49,785 H38"/>
  <path d="M31,769.5 L25,775.5 L31,781.5"/>
  <path d="M103.5,776.5 L120,768 L136.5,776.5 V785 H103.5 Z"/>
  <rect x="185.2" y="775.2" width="26" height="9.8"/>
  <path d="M193,770.5 H217.5 V780.5"/>
</g>
<g fill="#a3a3a3">
  <rect x="279.5" y="769" width="3.6" height="3.6"/>
  <rect x="279.5" y="775.2" width="3.6" height="3.6"/>
  <rect x="279.5" y="781.6" width="3.6" height="3.6"/>
</g>
<rect x="1084" y="776" width="19.6" height="2.6" fill="#2b2b2b"/>
<g stroke="#33b5e5" stroke-width="1.6" fill="none" stroke-linecap="round">
  <path d="M1146.5,773 C1146.5,768.5 1142.5,766.6 1137.3,766.6 C1132,766.6 1128,769 1128,773 C1128,777 1132,779.3 1137.3,779.3 C1142.5,779.3 1146.5,777 1146.5,773 C1146.5,781 1141,785.5 1134,785.5 C1131.5,785.5 1130,785.2 1129,784.8"/>
  <path d="M1181.5,766.6 H1165.5 L1164,775 C1166,773.5 1169.5,772.7 1173,772.7 C1178.5,772.7 1182,775.5 1182,779.2 C1182,783 1178.5,785.5 1173,785.5 C1169,785.5 1166,784.5 1164.5,783"/>
  <path d="M1191.6,766.6 H1206.8 C1201,771 1196,778 1194,785.5"/>
</g>
<g fill="#33b5e5"><circle cx="1155" cy="770.8" r="1.3"/><circle cx="1155" cy="782" r="1.3"/></g>
<rect x="1223.4" y="765.6" width="13.1" height="20.4" rx="5.5" fill="#888"/>
<path d="M1226.5,771.5 L1233,780 L1229.7,783 V768.5 L1233,771.5 L1226.5,780" stroke="#000" stroke-width="1.3" fill="none"/>
<rect x="1252" y="765" width="7.5" height="2.5" fill="#33b5e5"/>
<rect x="1248.8" y="767" width="14.5" height="18.8" fill="#33b5e5"/>
<path d="M1257.5,769 L1252.5,777.5 H1256 L1254.5,784 L1259.5,775 H1256 Z" fill="#fff"/>
</svg>
</body></html>
